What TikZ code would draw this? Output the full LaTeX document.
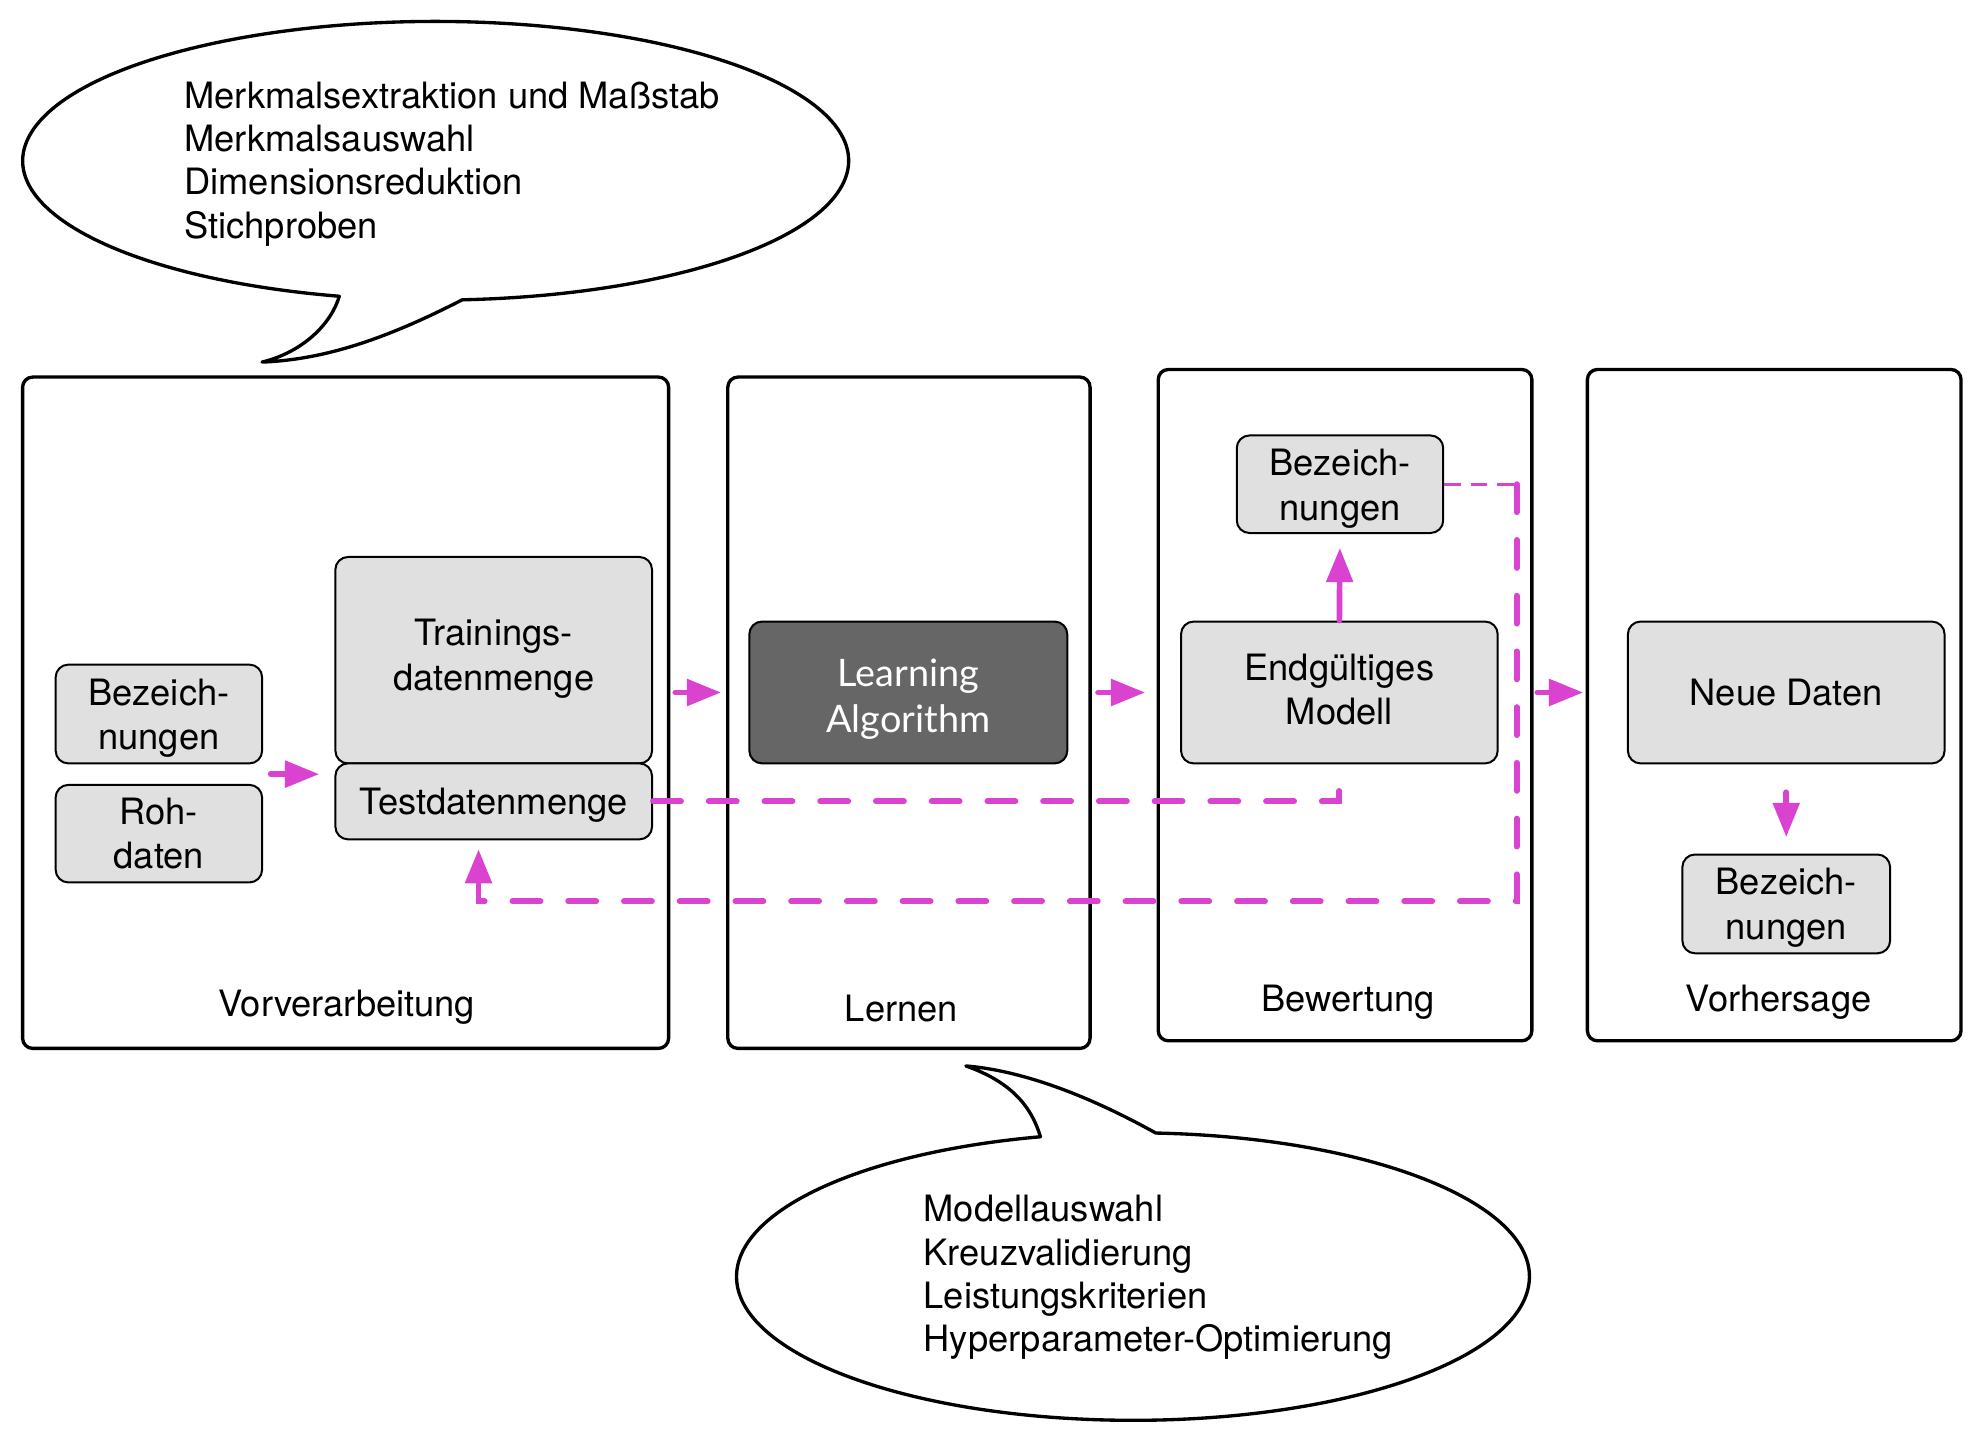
\documentclass[tikz,border=0pt]{standalone}
\usepackage{fontspec}
\setmainfont{TeX Gyre Heros}
\newfontfamily\gillfont{Lato}
\usetikzlibrary{arrows.meta,calc}
\definecolor{mag}{RGB}{217,67,208}
\definecolor{boxgray}{RGB}{224,224,224}
\definecolor{darkbox}{RGB}{102,102,102}
\begin{document}
\begin{tikzpicture}[x=0.01cm,y=-0.01cm,
  stage/.style={draw=black, line width=0.75pt, rounded corners=0.8mm, fill=white, inner sep=0pt},
  inbox/.style={draw=black, line width=0.45pt, rounded corners=1mm, fill=boxgray, inner sep=0pt},
  boxtext/.style={align=center, inner sep=0pt, font=\fontsize{8.15}{10}\selectfont},
  lbl/.style={font=\fontsize{8.15}{10}\selectfont, inner sep=0pt},
  tip/.style={-{Triangle[length=2.7mm, width=2.05mm]}},
  arr/.style={draw=mag, line width=0.45mm, line cap=round, tip},
  dsh/.style={draw=mag, line width=0.47mm, line cap=round, dash pattern=on 2.2mm off 2.2mm},
  dshthin/.style={draw=mag, line width=0.24mm, dash pattern=on 1.3mm off 0.8mm},
  bubble/.style={draw=black, line width=0.75pt, fill=white, line join=round},
  btext/.style={anchor=west, align=left, inner sep=0pt, font=\fontsize{8.15}{9.7}\selectfont}
]
\fill[white] (0,0) rectangle (1568,1141);
\useasboundingbox (0,0) rectangle (1568,1141);

% speech bubbles
\path[bubble] (268,234) arc[start angle=-103.5, end angle=-446.3, x radius=32.6mm, y radius=11mm]
  .. controls (310,265) and (260,284) .. (207,286)
  .. controls (240,278) and (262,255) .. (268,234) -- cycle;
\node[btext] (t1) at (145,129.5) {Merkmalsextraktion und Maßstab\\Merkmalsauswahl\\Dimensionsreduktion\\Stichproben};

\path[bubble] (913,895) arc[start angle=-273.3, end angle=-616.5, x radius=31.3mm, y radius=11.35mm]
  .. controls (815,875) and (800,855) .. (763,842)
  .. controls (800,845) and (850,860) .. (913,895) -- cycle;
\node[btext] (t2) at (729,1009) {Modellauswahl\\Kreuzvalidierung\\Leistungskriterien\\Hyperparameter-Optimierung};

% stage boxes
\node[stage, minimum width=51mm, minimum height=53mm] (pre) at (273,563) {};
\node[stage, minimum width=28.6mm, minimum height=53mm] (lern) at (718,563) {};
\node[stage, minimum width=29.5mm, minimum height=53mm] (bew) at (1062.5,557) {};
\node[stage, minimum width=29.5mm, minimum height=53mm] (vor) at (1401.5,557) {};

\node[lbl] (lpre) at (274,796) {Vorverarbeitung};
\node[lbl] (llern) at (712,797) {Lernen};
\node[lbl] (lbew) at (1065,792) {Bewertung};
\node[lbl] (lvor) at (1405,792) {Vorhersage};

% inner boxes
\node[inbox, minimum width=16.3mm, minimum height=7.8mm] (bez1) at (125.5,564) {};
\node[inbox, minimum width=16.3mm, minimum height=7.7mm] (roh) at (125.5,658.5) {};
\node[inbox, minimum width=25mm, minimum height=16.3mm] (train) at (390,521.5) {};
\node[inbox, minimum width=25mm, minimum height=6mm] (test) at (390,633) {};
\node[inbox, fill=darkbox, minimum width=25.1mm, minimum height=11.2mm] (learn) at (717.5,547) {};
\node[inbox, minimum width=16.3mm, minimum height=7.7mm] (bez2) at (1058.5,382.5) {};
\node[inbox, minimum width=25mm, minimum height=11.2mm] (model) at (1058,547) {};
\node[inbox, minimum width=25mm, minimum height=11.2mm] (neue) at (1411,547) {};
\node[inbox, minimum width=16.4mm, minimum height=7.8mm] (bez3) at (1411,714) {};

\node[boxtext] (bez1t) at ($(bez1.center)+(0,3.5)$) {Bezeich-\\nungen};
\node[boxtext] (roht) at (roh.center) {Roh-\\daten};
\node[boxtext] (traint) at ($(train.center)+(0,-1)$) {Trainings-\\datenmenge};
\node[boxtext] (testt) at ($(test.center)+(0,3)$) {Testdatenmenge};
\node[boxtext, text=white, font=\gillfont\fontsize{8.5}{10.3}\selectfont] (learnt) at ($(learn.center)+(0,5)$) {Learning\\Algorithm};
\node[boxtext] (bez2t) at ($(bez2.center)+(0,3.5)$) {Bezeich-\\nungen};
\node[boxtext] (modelt) at ($(model.center)+(0,-2.5)$) {Endgültiges\\Modell};
\node[boxtext] (neuet) at (neue.center) {Neue Daten};
\node[boxtext] (bez3t) at ($(bez3.center)+(0,3)$) {Bezeich-\\nungen};

% solid arrows
\coordinate (s1) at ($(bez1.south east)!0.5!(roh.north east)$);
\draw[arr, shorten <=0.6mm, shorten >=1.2mm] (s1) -- (s1 -| train.west);
\draw[arr, shorten <=0.4mm, shorten >=0.4mm] (pre.east |- learn.center) -- (lern.west |- learn.center);
\draw[arr, shorten <=0.5mm, shorten >=0.9mm] (lern.east |- model.center) -- (bew.west |- model.center);
\draw[arr, shorten <=0.3mm, shorten >=0.2mm] (bew.east |- neue.center) -- (vor.west |- neue.center);
\draw[arr, shorten >=1.1mm] (model.north) -- (bez2.south);
\draw[arr, shorten <=2.2mm, shorten >=1.3mm] (neue.south) -- (bez3.north);

% dashed feedback lines
\draw[dsh] (test.east) -- (test.east -| model.south) -- (model.south);
\coordinate (cr) at (1198,712);
\coordinate (tb) at ([xshift=-1.2mm]test.south);
\draw[dshthin] (bez2.east) -- (bez2.east -| cr);
\draw[dsh, tip, shorten >=0.7mm] (bez2.east -| cr) -- (cr) -- (cr -| tb) -- (tb);
\end{tikzpicture}
\end{document}
